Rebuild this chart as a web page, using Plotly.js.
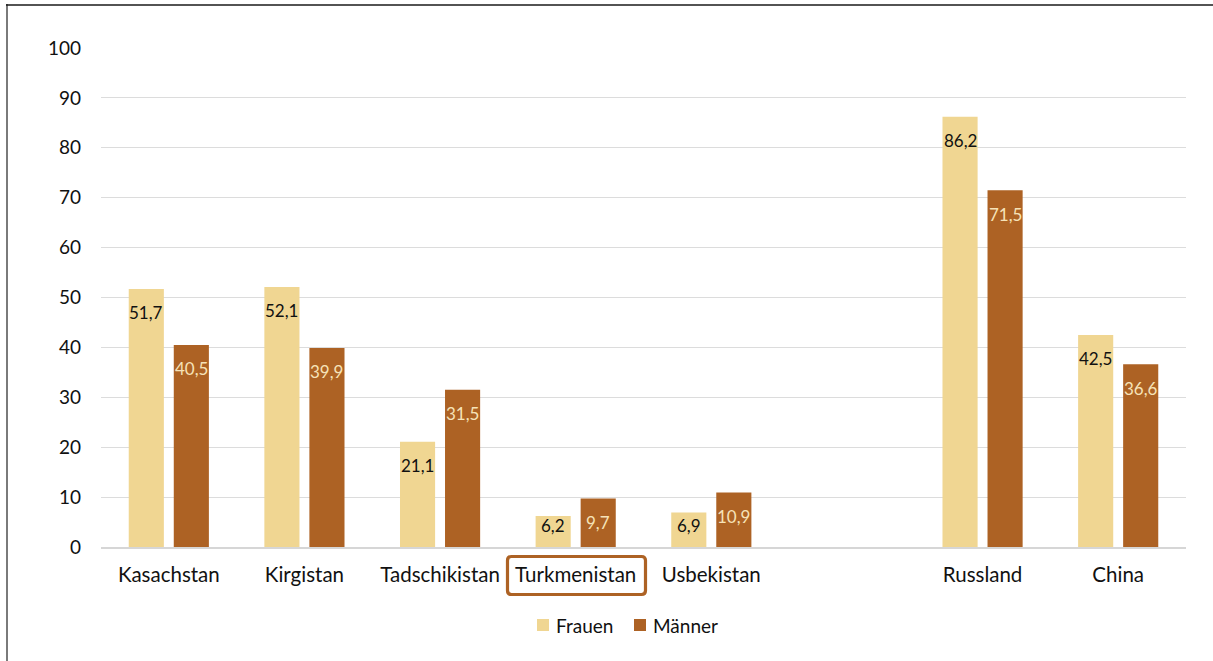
<!DOCTYPE html>
<html>
<head>
<meta charset="utf-8">
<script src="https://cdn.plot.ly/plotly-3.0.1.min.js"></script>
<style>
  html, body { margin: 0; padding: 0; background: #fff; }
  #chart { width: 1213px; height: 661px; }
</style>
</head>
<body>
<div id="chart"></div>
<script>
// Countries on the category axis; the blank entry leaves a gap before Russland
const countries = ["Kasachstan", "Kirgistan", "Tadschikistan", "Turkmenistan", "Usbekistan", " ", "Russland", "China"];
const frauen = [51.7, 52.1, 21.1, 6.2, 6.9, null, 86.2, 42.5];
const maenner = [40.5, 39.9, 31.5, 9.7, 10.9, null, 71.5, 36.6];
const yTicks = [0, 10, 20, 30, 40, 50, 60, 70, 80, 90, 100];
const seriesNames = ["Frauen", "Männer"];

const FONT = "Lato, 'Open Sans', sans-serif";
const cFrauen = "#f0d692";
const cMaenner = "#ad6224";

// plot area in pixels, used to place the frame, legend and highlight box
const L = 101, R = 27, T = 48, B = 114, W = 1213, H = 661;
const pw = W - L - R, ph = H - T - B;
const px = x => (x - L) / pw;
const py = y => (H - B - y) / ph;

const fmt = v => v.toFixed(1).replace(".", ",");

const traces = [
  { type: "bar", name: seriesNames[0], x: countries, y: frauen,
    marker: { color: cFrauen }, hoverinfo: "skip" },
  { type: "bar", name: seriesNames[1], x: countries, y: maenner,
    marker: { color: cMaenner }, hoverinfo: "skip" }
];

// value labels sit just inside the top of each bar, never below the lower limit
const annotations = [];
function addLabels(vals, shift, color) {
  vals.forEach((v, i) => {
    if (v === null) return;
    annotations.push({
      x: countries[i], y: Math.max(v - 4.8, 4.3), xref: "x", yref: "y",
      xshift: shift, yanchor: "middle", xanchor: "center",
      text: fmt(v), showarrow: false,
      font: { family: FONT, size: 17, color: color }
    });
  });
}
addLabels(frauen, -22.5, "#111111");
addLabels(maenner, 22.5, "#f6e2b8");

// legend: square swatch followed by the series name
const legendItems = [
  { name: seriesNames[0], color: cFrauen, sx: 537 },
  { name: seriesNames[1], color: cMaenner, sx: 634 }
];
const shapes = [];
legendItems.forEach(it => {
  shapes.push({ type: "rect", xref: "paper", yref: "paper",
    x0: px(it.sx), x1: px(it.sx + 12), y0: py(619), y1: py(631),
    fillcolor: it.color, line: { width: 0 } });
  annotations.push({ xref: "paper", yref: "paper",
    x: px(it.sx + 17), y: py(625), xanchor: "left", yanchor: "middle",
    text: it.name, showarrow: false,
    font: { family: FONT, size: 19, color: "#111111" } });
});

// outer frame: left and top edges
shapes.push({ type: "line", xref: "paper", yref: "paper",
  x0: px(7), x1: px(7), y0: py(4), y1: py(662),
  line: { color: "#7a7a7a", width: 2 } });
shapes.push({ type: "line", xref: "paper", yref: "paper",
  x0: px(6), x1: px(1214), y0: py(5), y1: py(5),
  line: { color: "#1a1a1a", width: 1.5 } });

// rounded highlight box around the Turkmenistan label
(function () {
  const x0 = 507.5, x1 = 645.5, y0 = 556.5, y1 = 594.5, r = 4;
  const P = (x, y) => px(x).toFixed(5) + "," + py(y).toFixed(5);
  const d = "M" + P(x0 + r, y0) + " L" + P(x1 - r, y0) +
    " Q" + P(x1, y0) + " " + P(x1, y0 + r) +
    " L" + P(x1, y1 - r) + " Q" + P(x1, y1) + " " + P(x1 - r, y1) +
    " L" + P(x0 + r, y1) + " Q" + P(x0, y1) + " " + P(x0, y1 - r) +
    " L" + P(x0, y0 + r) + " Q" + P(x0, y0) + " " + P(x0 + r, y0) + " Z";
  shapes.push({ type: "path", xref: "paper", yref: "paper", path: d,
    line: { color: cMaenner, width: 3.2 } });
})();

const layout = {
  width: W, height: H,
  margin: { l: L, r: R, t: T, b: B, pad: 0 },
  paper_bgcolor: "#ffffff", plot_bgcolor: "#ffffff",
  barmode: "group", bargap: 0.336, bargroupgap: 0.22,
  font: { family: FONT, size: 19, color: "#111111" },
  showlegend: false,
  xaxis: {
    type: "category", categoryorder: "array", categoryarray: countries,
    showgrid: false, zeroline: false,
    showline: true, linecolor: "#d6d6d6", linewidth: 2,
    ticks: "", ticklabelstandoff: 8,
    tickfont: { family: FONT, size: 20.5, color: "#111111" },
    fixedrange: true
  },
  yaxis: {
    range: [0, 100], tickvals: yTicks, ticktext: yTicks.map(String),
    showgrid: true, gridcolor: "#dcdcdc", gridwidth: 1,
    zeroline: false, showline: false, ticks: "",
    ticklabelstandoff: 19,
    tickfont: { family: FONT, size: 19, color: "#111111" },
    fixedrange: true
  },
  annotations: annotations,
  shapes: shapes
};

Plotly.newPlot("chart", traces, layout, { displayModeBar: false, staticPlot: true });
</script>
</body>
</html>
